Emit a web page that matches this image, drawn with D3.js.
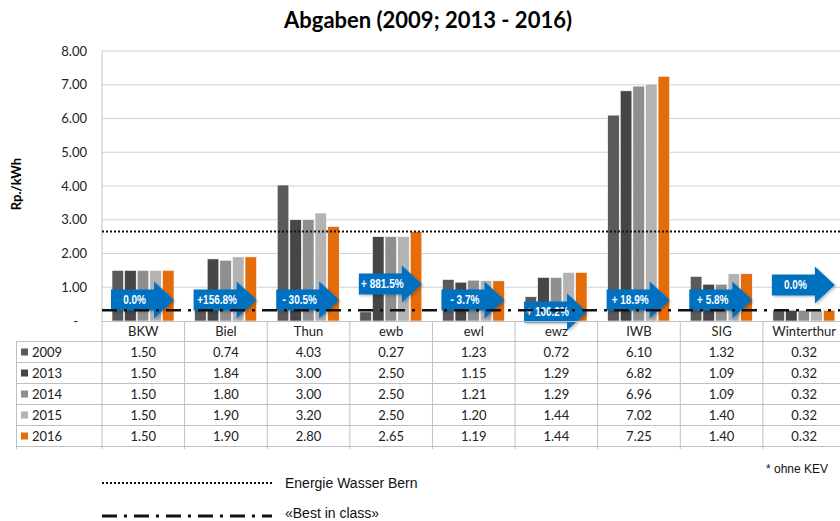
<!DOCTYPE html>
<html><head><meta charset="utf-8">
<script src="https://cdn.jsdelivr.net/npm/d3@7"></script>
<style>
body{margin:0;background:#fff;}
svg{display:block;}
</style></head>
<body>
<svg id="chart" width="840" height="521"></svg>
<script>
const categories = ["BKW","Biel","Thun","ewb","ewl","ewz","IWB","SIG","Winterthur"];
const years = ["2009","2013","2014","2015","2016"];
const v2009 = [1.50,0.74,4.03,0.27,1.23,0.72,6.10,1.32,0.32];
const v2013 = [1.50,1.84,3.00,2.50,1.15,1.29,6.82,1.09,0.32];
const v2014 = [1.50,1.80,3.00,2.50,1.21,1.29,6.96,1.09,0.32];
const v2015 = [1.50,1.90,3.20,2.50,1.20,1.44,7.02,1.40,0.32];
const v2016 = [1.50,1.90,2.80,2.65,1.19,1.44,7.25,1.40,0.32];
const changeLabels = ["0.0%","+156.8%","- 30.5%","+ 881.5%","- 3.7%","+ 100.2%","+ 18.9%","+ 5.8%","0.0%"];
const arrowLevels = [0.62,0.62,0.62,1.10,0.62,0.27,0.62,0.62,1.07];
const yTicks = [0,1,2,3,4,5,6,7,8];
const ewbLevel = 2.65;
const bestLevel = 0.32;
const colors = ["#5a5a5a","#464646","#8e8e8e","#b3b3b3","#e46c0a"];

const series = [v2009,v2013,v2014,v2015,v2016];
const svg = d3.select("#chart");
const FONT = "Lato, 'Open Sans', sans-serif";
const gridC = "#d0d0d0", tblC = "#c0c0c0";

const x0 = d3.scaleBand().domain(categories).range([102, 845.5]);
const x1 = d3.scaleBand().domain(years).range([10, 72]).paddingInner(0.08);
const y = d3.scaleLinear().domain([0,8]).range([321,51]);

const defs = svg.append("defs");
const f = defs.append("filter").attr("id","sh").attr("x","-10%").attr("y","-10%").attr("width","130%").attr("height","140%");
f.append("feDropShadow").attr("dx",1.5).attr("dy",1.5).attr("stdDeviation",1.2).attr("flood-color","#000").attr("flood-opacity",0.25);

// title
svg.append("text").attr("x",428).attr("y",28).attr("text-anchor","middle")
  .attr("font-family","Lato, sans-serif").attr("font-weight","bold").attr("font-size",22).text("Abgaben (2009; 2013 - 2016)");

// gridlines
svg.append("g").selectAll("line").data(yTicks.filter(d=>d>0)).join("line")
  .attr("x1",102).attr("x2",840).attr("y1",d=>y(d)).attr("y2",d=>y(d))
  .attr("stroke",gridC).attr("stroke-width",1.2);
// left border
svg.append("line").attr("x1",102).attr("x2",102).attr("y1",y(8)).attr("y2",449).attr("stroke",tblC);

// y axis labels
const yAxis = d3.axisLeft(y).tickValues(yTicks).tickSize(0).tickPadding(0)
  .tickFormat(d=> d===0 ? "-" : d3.format(".2f")(d));
const ga = svg.append("g").attr("transform","translate(87,0)").call(yAxis);
ga.select(".domain").remove();
ga.selectAll("text").attr("font-family",FONT).attr("font-size",13).attr("fill","#222");
ga.selectAll(".tick").filter(d=>d===0).select("text").attr("dx",-9);

svg.append("text").attr("transform","translate(21,184) rotate(-90)").attr("text-anchor","middle")
  .attr("font-family",FONT).attr("font-weight","bold").attr("font-size",13).text("Rp./kWh");

// bars
const gb = svg.append("g");
categories.forEach((c,i)=>{
  series.forEach((s,j)=>{
    gb.append("rect").attr("x",x0(c)+x1(years[j])).attr("width",x1.bandwidth())
      .attr("y",y(s[i])).attr("height",y(0)-y(s[i])).attr("fill",colors[j])
      .attr("stroke","#fff").attr("stroke-width",0.6);
  });
});

// arrows
const ga2 = svg.append("g");
categories.forEach((c,i)=>{
  const xs = x0(c)+9, xe = x0(c)+72, xh = xe-20, cy = y(arrowLevels[i]);
  const bh = 10.5, hh = 18.5;
  const p = `M${xs},${cy-bh}L${xh},${cy-bh}L${xh},${cy-hh}L${xe},${cy}L${xh},${cy+hh}L${xh},${cy+bh}L${xs},${cy+bh}Z`;
  ga2.append("path").attr("d",p).attr("fill","#0071c1").attr("filter","url(#sh)");
  ga2.append("text").attr("transform",`translate(${(xs+xh)/2+2},${cy+4.3}) scale(0.8,1)`)
    .attr("text-anchor","middle")
    .attr("font-family","'Liberation Sans',Arial,sans-serif")
    .attr("font-weight","bold").attr("font-size",12.5).attr("fill","#fff").text(changeLabels[i]);
});

// reference lines
svg.append("line").attr("x1",102).attr("x2",840).attr("y1",y(ewbLevel)).attr("y2",y(ewbLevel))
  .attr("stroke","#111").attr("stroke-width",2).attr("stroke-dasharray","2,2");
svg.append("line").attr("x1",102).attr("x2",840).attr("y1",y(bestLevel)).attr("y2",y(bestLevel))
  .attr("stroke","#111").attr("stroke-width",2.5).attr("stroke-dasharray","15,7,3,7");

// table / axis
const tb = svg.append("g");
tb.append("line").attr("x1",102).attr("x2",840).attr("y1",321.5).attr("y2",321.5).attr("stroke",tblC);
const rowY = [341.5,362.5,383.5,404.5,425.5,446.5];
rowY.forEach(r=> tb.append("line").attr("x1",16).attr("x2",840).attr("y1",r).attr("y2",r).attr("stroke",tblC));
tb.append("line").attr("x1",16.5).attr("x2",16.5).attr("y1",341.5).attr("y2",449).attr("stroke",tblC);
categories.forEach((c,i)=>{
  if(i>0) tb.append("line").attr("x1",x0(c)).attr("x2",x0(c)).attr("y1",321.5).attr("y2",449).attr("stroke",tblC);
  tb.append("text").attr("x",x0(c)+x0.bandwidth()/2).attr("y",336).attr("text-anchor","middle")
    .attr("font-family",FONT).attr("font-size",13).attr("fill","#222").text(c);
  series.forEach((s,j)=>{
    tb.append("text").attr("x",x0(c)+x0.bandwidth()/2).attr("y",rowY[j]+15).attr("text-anchor","middle")
      .attr("font-family",FONT).attr("font-size",13).attr("fill","#222").text(d3.format(".2f")(s[i]));
  });
});
years.forEach((yr,j)=>{
  tb.append("rect").attr("x",21).attr("y",rowY[j]+7).attr("width",7).attr("height",7).attr("fill",colors[j]);
  tb.append("text").attr("x",32).attr("y",rowY[j]+15).attr("font-family",FONT).attr("font-size",13).attr("fill","#222").text(yr);
});

// legend
svg.append("line").attr("x1",102).attr("x2",272).attr("y1",483).attr("y2",483)
  .attr("stroke","#111").attr("stroke-width",2).attr("stroke-dasharray","2,2");
svg.append("text").attr("x",285).attr("y",488).attr("font-family","'Liberation Sans',Arial,sans-serif").attr("font-size",14).attr("fill","#111").text("Energie Wasser Bern");
svg.append("line").attr("x1",102).attr("x2",272).attr("y1",516).attr("y2",516)
  .attr("stroke","#111").attr("stroke-width",3).attr("stroke-dasharray","15,7,3,7");
svg.append("text").attr("x",285).attr("y",518).attr("font-family","'Liberation Sans',Arial,sans-serif").attr("font-size",14).attr("fill","#111").text("«Best in class»");
svg.append("text").attr("x",766).attr("y",473).attr("font-family","'Liberation Sans',Arial,sans-serif").attr("font-size",12).attr("fill","#111").text("* ohne KEV");
</script>
</body></html>
